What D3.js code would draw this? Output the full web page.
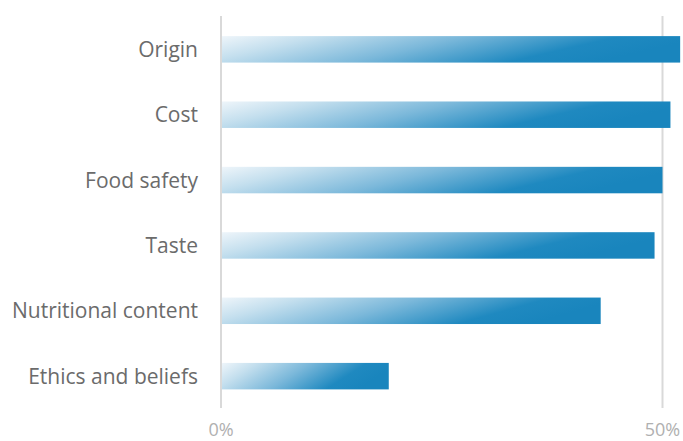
<!DOCTYPE html>
<html><head><meta charset="utf-8">
<script src="https://cdn.jsdelivr.net/npm/d3@7"></script>
<style>body{margin:0;background:#fff}svg{display:block}</style>
</head><body><svg id="c" width="683" height="441"></svg>
<script>
const categories = ["Origin","Cost","Food safety","Taste","Nutritional content","Ethics and beliefs"];
const values = [52.0, 50.9, 50.0, 49.1, 43.0, 19.0];
const tickValues = [0, 50];
const tickLabels = ["0%", "50%"];

const svg = d3.select("#c");
const x = d3.scaleLinear().domain([0, 50]).range([221, 662.5]);
const y = d3.scaleBand().domain(categories).range([16.5, 409]).paddingInner(0.595).paddingOuter(0.3);

const defs = svg.append("defs");
const g = defs.append("linearGradient").attr("id","grad")
  .attr("x1",0).attr("y1",0).attr("x2",1).attr("y2",0.25);
[[0,"#eef5fa"],[0.2,"#c4dfee"],[0.5,"#7bb8da"],[0.82,"#1f89c0"],[1,"#1985bd"]].forEach(s=>
  g.append("stop").attr("offset",s[0]).attr("stop-color",s[1]));

svg.append("g").selectAll("line").data(tickValues).join("line")
  .attr("x1",d=>x(d)).attr("x2",d=>x(d)).attr("y1",16).attr("y2",408)
  .attr("stroke","#d9d9d9").attr("stroke-width",2);

svg.append("g").selectAll("rect").data(values).join("rect")
  .attr("x", x(0)+1)
  .attr("y",(d,i)=>y(categories[i]))
  .attr("width",d=>x(d)-x(0)-1)
  .attr("height",y.bandwidth())
  .attr("fill","url(#grad)");

svg.append("g").selectAll("text").data(categories).join("text")
  .attr("x",198).attr("y",d=>y(d)+y.bandwidth()/2)
  .attr("dy","0.36em").attr("text-anchor","end")
  .attr("font-family","'Open Sans', sans-serif").attr("font-size",21)
  .attr("fill","#6b6b6b").text(d=>d);

svg.append("g").selectAll("text").data(tickValues).join("text")
  .attr("x",d=>x(d)).attr("y",436).attr("text-anchor","middle")
  .attr("font-family","'Open Sans', sans-serif").attr("font-size",18)
  .attr("fill","#b0b0b0").text((d,i)=>tickLabels[i]);
</script></body></html>
